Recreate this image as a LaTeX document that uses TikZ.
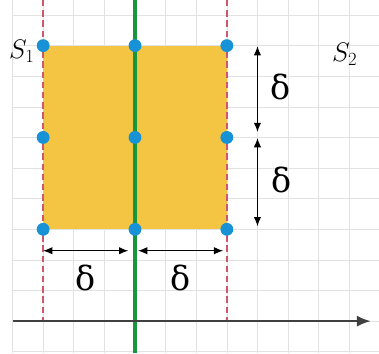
\documentclass[tikz,border=0pt]{standalone}
\usepackage{fontspec}
\newfontfamily\labelfont{DejaVu Serif}
\usetikzlibrary{arrows.meta, positioning}

\definecolor{gridgray}{RGB}{226,226,226}
\definecolor{cellyellow}{RGB}{243,197,66}
\definecolor{dotblue}{RGB}{24,146,214}
\definecolor{linegreen}{RGB}{24,150,62}
\definecolor{edgered}{RGB}{208,86,108}
\definecolor{axisgray}{RGB}{64,64,64}

\begin{document}
\begin{tikzpicture}[
		dot/.style={circle, fill=dotblue, inner sep=0pt, minimum size=4.2mm},
		dim/.style={{Latex[length=3mm,width=2.4mm]}-{Latex[length=3mm,width=2.4mm]}, line width=1pt},
		dlabel/.style={font=\labelfont\fontsize{31}{31}\selectfont, inner sep=0pt},
		slabel/.style={font=\fontsize{24}{24}\selectfont, inner sep=0pt}
	]
		\useasboundingbox (-4.41,-1.05) rectangle (7.97,10.49);
		
		% Background grid
		\draw[gridgray, line width=0.6pt] (-4,-1.05) grid (7.97,10.49);
		
		% Cell between the two boundaries
		\fill[cellyellow] (-3,3) rectangle (3,9);
		
		% Boundaries (dashed) and middle line
		\draw[edgered, line width=1.4pt, dash pattern=on 6pt off 3.5pt] (-3,10.49) -- (-3,0);
		\draw[edgered, line width=1.4pt, dash pattern=on 6pt off 3.5pt] (3,10.49) -- (3,0);
		\draw[linegreen, line width=3pt] (0,-1.05) -- (0,10.49);
		
		% Axis
		\draw[-{Latex[length=4.5mm,width=3.6mm]}, axisgray, line width=1.8pt] (-4,0) -- (7.7,0);
		
		% Mesh points
		\foreach \x/\i in {-3/l, 0/m, 3/r}
			\foreach \y/\j in {3/b, 6/c, 9/t}
				\node[dot] (\i\j) at (\x,\y) {};
		
		% Vertical spacing
		\coordinate (v1) at (4,8.98);
		\coordinate (v2) at (4,6.18);
		\coordinate (v3) at (4,5.98);
		\coordinate (v4) at (4,3.1);
		\draw[dim] (v1) -- (v2);
		\draw[dim] (v3) -- (v4);
		\node[dlabel] (dy1) at (4.75,7.65) {δ};
		\node[dlabel] (dy2) at (4.8,4.6) {δ};
		
		% Horizontal spacing
		\coordinate (h1) at (-3,2.3);
		\coordinate (h2) at (-0.22,2.3);
		\coordinate (h3) at (0.1,2.3);
		\coordinate (h4) at (2.88,2.3);
		\draw[dim] (h1) -- (h2);
		\draw[dim] (h3) -- (h4);
		\node[dlabel] (dx1) at (-1.6,1.4) {δ};
		\node[dlabel] (dx2) at (1.5,1.4) {δ};
		
		% Sides
		\node[slabel] (s1) at (-3.7,8.8) {$S_1$};
		\node[slabel] (s2) at (6.85,8.7) {$S_2$};
	\end{tikzpicture}
\end{document}
